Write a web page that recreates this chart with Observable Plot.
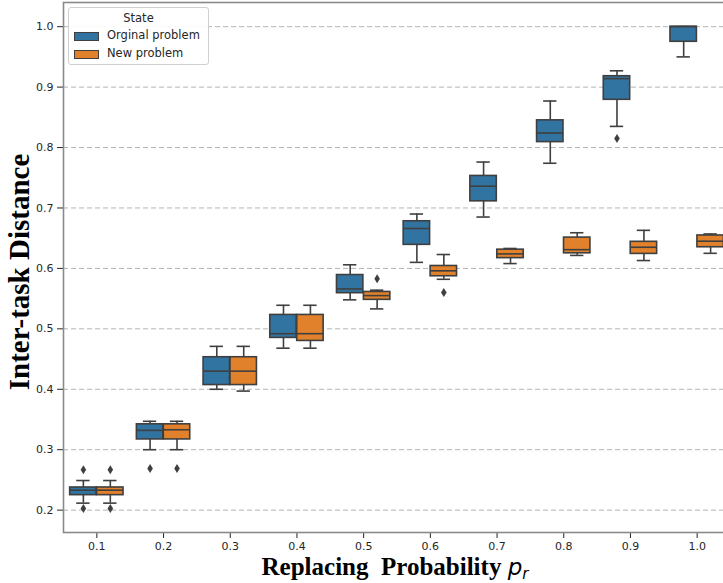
<!DOCTYPE html>
<html>
<head>
<meta charset="utf-8">
<script src="https://cdn.jsdelivr.net/npm/d3@7"></script>
<script src="https://cdn.jsdelivr.net/npm/@observablehq/plot@0.6"></script>
<style>
  html, body { margin: 0; padding: 0; background: #fff; overflow: hidden; }
  #wrap { position: relative; width: 723px; height: 583px; overflow: hidden; }
  #wrap svg { max-width: none !important; }
  #legend { position: absolute; left: 68px; top: 7px; width: 141px; height: 58px; box-sizing: border-box;
            border: 1px solid #cfcfcf; border-radius: 3px; background: rgba(255,255,255,0.9);
            font-family: "DejaVu Sans", sans-serif; font-size: 11.5px; color: #262626; }
  #legend .title { position: absolute; left: 0; width: 100%; top: 3px; text-align: center; }
  #legend .sw { position: absolute; left: 5px; width: 25px; height: 9px; box-sizing: border-box; border: 1px solid #3f3f3f; }
  #legend .lab { position: absolute; left: 38px; white-space: nowrap; }
</style>
</head>
<body>
<div id="wrap"><div id="legend"></div></div>
<script>
// ---- data ----
const probs = [0.1, 0.2, 0.3, 0.4, 0.5, 0.6, 0.7, 0.8, 0.9, 1.0];
const xTickLabels = ["0.1", "0.2", "0.3", "0.4", "0.5", "0.6", "0.7", "0.8", "0.9", "1.0"];
const yTicks = [0.2, 0.3, 0.4, 0.5, 0.6, 0.7, 0.8, 0.9, 1.0];
const seriesNames = ["Orginal problem", "New problem"];
const seriesColors = ["#3274a1", "#e1812c"];
const legendTitle = "State";

// Original problem box stats
const origLow    = [0.2116, 0.300, 0.400, 0.468, 0.548, 0.610, 0.685, 0.774, 0.835, 0.950];
const origQ1     = [0.2248, 0.317, 0.407, 0.485, 0.559, 0.639, 0.711, 0.809, 0.879, 0.975];
const origMedian = [0.2330, 0.332, 0.430, 0.492, 0.566, 0.666, 0.736, 0.824, 0.914, 1.000];
const origQ3     = [0.2375, 0.342, 0.453, 0.523, 0.589, 0.678, 0.753, 0.845, 0.918, 1.000];
const origHigh   = [0.2490, 0.347, 0.471, 0.539, 0.606, 0.690, 0.776, 0.877, 0.927, 1.000];
const origOutP   = [0.1, 0.1, 0.2, 0.9];
const origOutV   = [0.267, 0.2028, 0.269, 0.815];

// New problem box stats
const newLow    = [0.2116, 0.300, 0.397, 0.468, 0.533, 0.582, 0.608, 0.6215, 0.613, 0.625];
const newQ1     = [0.2248, 0.317, 0.407, 0.480, 0.548, 0.587, 0.617, 0.625, 0.624, 0.635];
const newMedian = [0.2330, 0.333, 0.430, 0.492, 0.555, 0.596, 0.624, 0.631, 0.635, 0.645];
const newQ3     = [0.2375, 0.342, 0.453, 0.523, 0.561, 0.604, 0.631, 0.651, 0.644, 0.6545];
const newHigh   = [0.2490, 0.347, 0.471, 0.539, 0.564, 0.623, 0.633, 0.659, 0.663, 0.657];
const newOutP   = [0.1, 0.1, 0.2, 0.5, 0.6];
const newOutV   = [0.267, 0.2028, 0.269, 0.583, 0.560];

// ---- build tables ----
const edge = "#3f3f3f";
const boxW = 0.0396, gap = 0.0004, capHalf = 0.01;
function rowsFor(side, lo, q1, med, q3, hi, color) {
  return probs.map((p, i) => ({p, side, lo: lo[i], q1: q1[i], med: med[i], q3: q3[i], hi: hi[i], color}));
}
const rows = [
  ...rowsFor(-1, origLow, origQ1, origMedian, origQ3, origHigh, seriesColors[0]),
  ...rowsFor(1, newLow, newQ1, newMedian, newQ3, newHigh, seriesColors[1])
];
const outliers = [
  ...origOutP.map((p, i) => ({p, v: origOutV[i], side: -1})),
  ...newOutP.map((p, i) => ({p, v: newOutV[i], side: 1}))
];
const left = d => d.side < 0 ? d.p - gap - boxW : d.p + gap;
const right = d => d.side < 0 ? d.p - gap : d.p + gap + boxW;
const mid = d => d.p + d.side * (gap + boxW / 2);

const thinDiamond = {
  draw(ctx, size) {
    const s = Math.sqrt(size / Math.PI);
    const h = s, w = s * 0.62;
    ctx.moveTo(0, -h); ctx.lineTo(w, 0); ctx.lineTo(0, h); ctx.lineTo(-w, 0); ctx.closePath();
  }
};

const chart = Plot.plot({
  width: 730, height: 583,
  marginLeft: 63, marginRight: 0, marginTop: 2, marginBottom: 51,
  style: {fontFamily: "DejaVu Sans, sans-serif", fontSize: "11px", color: "#262626", background: "transparent", maxWidth: "none"},
  x: {domain: [0.05, 1.05], ticks: probs, tickFormat: d => xTickLabels[Math.round(d * 10) - 1], tickSize: 6, tickPadding: 4, label: null},
  y: {domain: [0.163, 1.04], ticks: yTicks, tickFormat: d => d.toFixed(1), tickSize: 6, tickPadding: 4, label: null},
  marks: [
    Plot.ruleY(yTicks, {stroke: "#b4b4b4", strokeDasharray: "5,3", strokeWidth: 1}),
    // whiskers
    Plot.ruleX(rows, {x: mid, y1: "lo", y2: "q1", stroke: edge, strokeWidth: 1.6}),
    Plot.ruleX(rows, {x: mid, y1: "q3", y2: "hi", stroke: edge, strokeWidth: 1.6}),
    // caps
    Plot.ruleY(rows, {y: "lo", x1: d => mid(d) - capHalf, x2: d => mid(d) + capHalf, stroke: edge, strokeWidth: 1.6}),
    Plot.ruleY(rows, {y: "hi", x1: d => mid(d) - capHalf, x2: d => mid(d) + capHalf, stroke: edge, strokeWidth: 1.6}),
    // boxes
    Plot.rect(rows, {x1: left, x2: right, y1: "q1", y2: "q3", fill: "color", stroke: edge, strokeWidth: 1.6}),
    // medians
    Plot.ruleY(rows, {y: "med", x1: left, x2: right, stroke: edge, strokeWidth: 1.6}),
    // outliers
    Plot.dot(outliers, {x: mid, y: "v", symbol: thinDiamond, r: 4.5, fill: edge, stroke: null}),
    Plot.frame({stroke: "#8a8a8a", strokeWidth: 1.6})
  ]
});
chart.style.maxWidth = "none";

const svg = d3.select(chart);
// y label
svg.append("text")
  .attr("transform", "translate(19,272) rotate(-90)")
  .attr("text-anchor", "middle").attr("dominant-baseline", "central")
  .style("font-family", "'Liberation Serif', serif").style("font-weight", "bold").style("font-size", "29px")
  .attr("fill", "#000").text("Inter-task Distance");
// x label
const xl = svg.append("text")
  .attr("x", 395).attr("y", 575).attr("text-anchor", "middle").attr("fill", "#000")
  .style("white-space", "pre");
xl.append("tspan").style("font-family", "'Liberation Serif', serif").style("font-weight", "bold").style("font-size", "25px")
  .text("Replacing\u00a0\u00a0Probability ");
xl.append("tspan").style("font-family", "'DejaVu Sans', sans-serif").style("font-style", "italic").style("font-size", "23px").text("p");
xl.append("tspan").attr("dy", 4).style("font-family", "'DejaVu Sans', sans-serif").style("font-style", "italic").style("font-size", "15px").text("r");

document.getElementById("wrap").prepend(chart);

// legend
const lg = document.getElementById("legend");
const t = document.createElement("div"); t.className = "title"; t.textContent = legendTitle; lg.appendChild(t);
seriesNames.forEach((name, i) => {
  const sw = document.createElement("div"); sw.className = "sw";
  sw.style.top = (24 + i * 17.5) + "px"; sw.style.background = seriesColors[i]; lg.appendChild(sw);
  const lb = document.createElement("div"); lb.className = "lab";
  lb.style.top = (20 + i * 17.5) + "px"; lb.textContent = name; lg.appendChild(lb);
});
</script>
</body>
</html>
